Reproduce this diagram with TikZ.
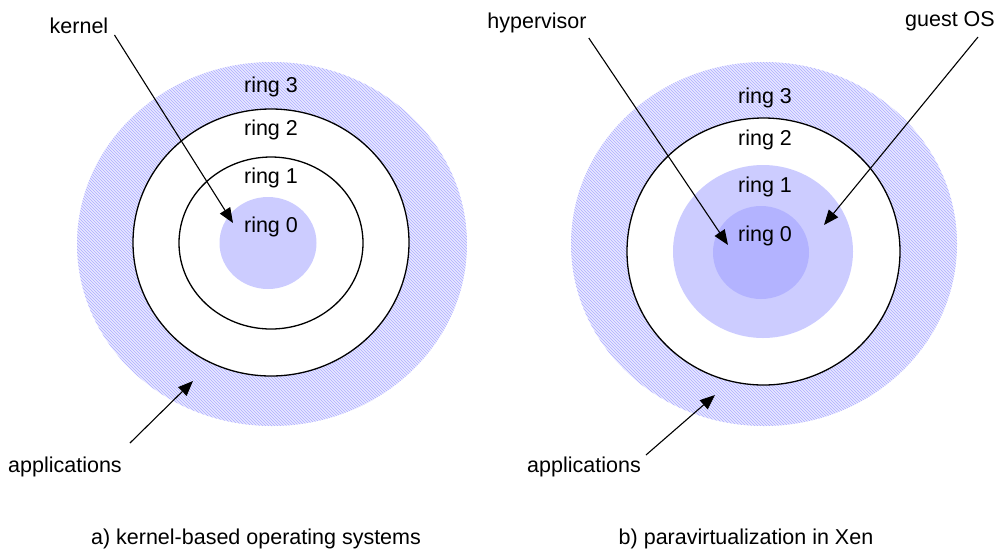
\documentclass[tikz,border=0pt]{standalone}
\usepackage{fontspec}
\setmainfont{Liberation Sans}
\usetikzlibrary{arrows.meta,patterns}

\definecolor{ringlight}{HTML}{CCCCFF}
\definecolor{ringdark}{HTML}{B3B3FF}

\begin{document}
\begin{tikzpicture}[x=1pt, y=-1pt,
    lbl/.style={font=\fontsize{21.5}{26}\selectfont, inner sep=0pt, anchor=base},
    pointer/.style={line width=1.1pt, -{Triangle[length=15pt, width=12pt]}},
    hatched/.style={fill=blue!9, postaction={pattern=north west lines, pattern color=blue!32}},
    ringline/.style={line width=1.3pt}]
    \useasboundingbox (0, 0) rectangle (999, 550);

    % a) kernel-based operating systems
    \fill[hatched] (272, 244) ellipse [x radius=195pt, y radius=182pt];
    \draw[ringline, fill=white] (271, 242.5) ellipse [x radius=138pt, y radius=133.5pt];
    \draw[ringline] (271, 243) ellipse [x radius=92pt, y radius=86pt];
    \fill[ringlight] (268, 243) ellipse [x radius=48.5pt, y radius=46pt];

    % b) paravirtualization in Xen
    \fill[hatched] (764, 244) ellipse [x radius=193pt, y radius=182pt];
    \draw[ringline, fill=white] (763.5, 251.5) ellipse [x radius=136.5pt, y radius=133.5pt];
    \fill[ringlight] (763, 251.5) ellipse [x radius=90pt, y radius=86.5pt];
    \fill[ringdark] (761, 252.5) ellipse [x radius=48pt, y radius=46.5pt];

    % ring labels
    \foreach \n/\ya/\yb in {3/92/103, 2/135/145, 1/183/192, 0/232/241} {
        \node[lbl] (a ring \n) at (271, \ya) {ring \n};
        \node[lbl] (b ring \n) at (765, \yb) {ring \n};
    }

    % pointer labels
    \node[lbl] (kernel) at (79, 33) {kernel};
    \node[lbl] (a apps) at (65, 472) {applications};
    \node[lbl] (hypervisor) at (537, 28) {hypervisor};
    \node[lbl] (guest) at (950, 26) {guest OS};
    \node[lbl] (b apps) at (584, 472) {applications};

    % arrow tips
    \coordinate (kernel tip) at (233, 223);
    \coordinate (a apps tip) at (193, 381);
    \coordinate (hypervisor tip) at (728, 245);
    \coordinate (guest tip) at (824, 225);
    \coordinate (b apps tip) at (715, 395);

    \draw[pointer] ([shift={(6pt, -2pt)}]kernel.base east) -- (kernel tip);
    \draw[pointer] ([shift={(8pt, 29pt)}]a apps.base east) -- (a apps tip);
    \draw[pointer] ([shift={(2pt, -10pt)}]hypervisor.base east) -- (hypervisor tip);
    \draw[pointer] ([shift={(-17pt, -11pt)}]guest.base east) -- (guest tip);
    \draw[pointer] ([shift={(5pt, 17pt)}]b apps.base east) -- (b apps tip);

    % captions
    \node[lbl] (cap a) at (256, 544) {a) kernel-based operating systems};
    \node[lbl] (cap b) at (746, 544) {b) paravirtualization in Xen};
\end{tikzpicture}
\end{document}
